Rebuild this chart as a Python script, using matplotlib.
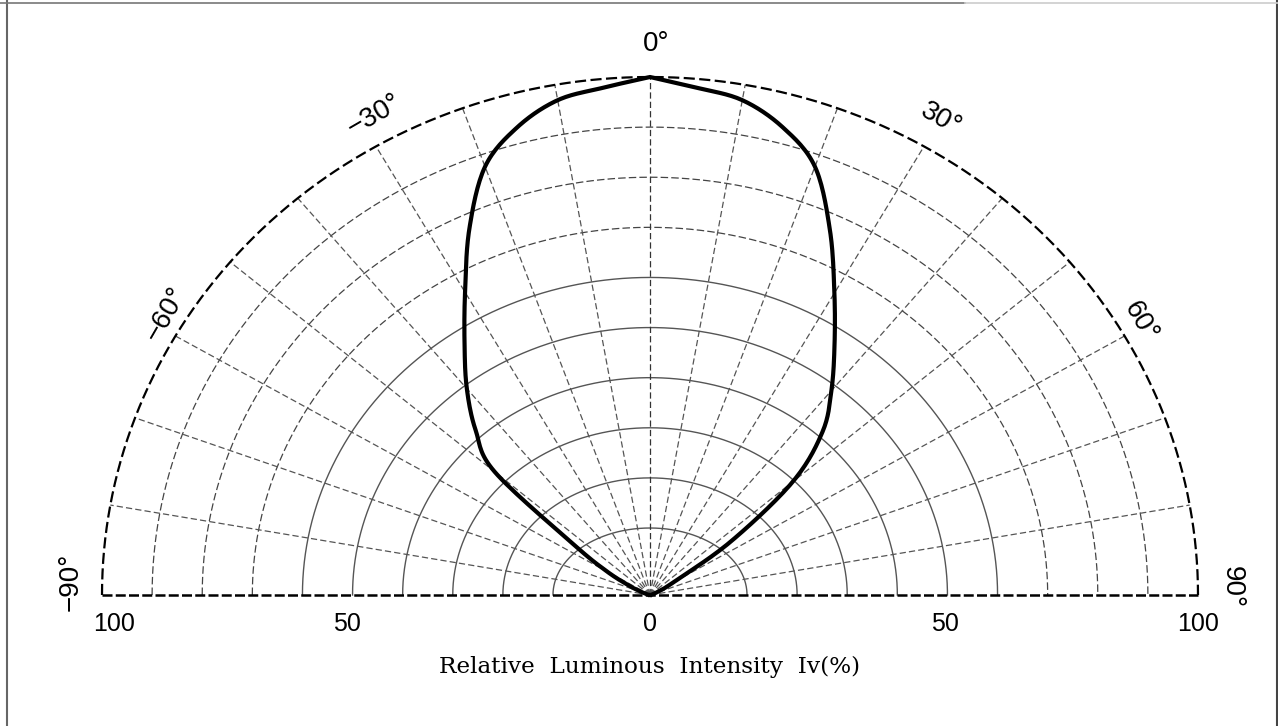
import numpy as np
import matplotlib
matplotlib.use("Agg")
import matplotlib.pyplot as plt
from matplotlib.lines import Line2D

# ---------------- data ----------------
angles_deg = [-90, -85, -80, -75, -70, -65, -60, -55, -50, -45, -40, -35, -30,
              -25, -20, -15, -10, -5, 0, 5, 10, 15, 20, 25, 30, 35, 40, 45,
              50, 55, 60, 65, 70, 75, 80, 85, 90]
intensity = [0, 0.1, 0.3, 0.6, 1.5, 4, 9, 17, 37, 45, 52, 59, 67.5,
             78, 88, 93.5, 97, 98.3, 100, 98.3, 97, 93.5, 88, 77.7, 67.3, 58.7, 51.5, 44.5,
             34, 18, 5, 2, 0.8, 0.4, 0.2, 0.1, 0]
ring_values = [10, 20, 30, 40, 50, 60, 70, 80, 90, 100]
spoke_angles = [-80, -70, -60, -50, -40, -30, -20, -10, 0, 10, 20, 30, 40, 50, 60, 70, 80]
angle_labels = [-90, -60, -30, 0, 30, 60, 90]
tick_values = [-100, -50, 0, 50, 100]
tick_texts = ["100", "50", "0", "50", "100"]
xlabel_text = "Relative  Luminous  Intensity  Iv(%)"

# radial grid offsets (grid drawn with a radial origin offset, separately in x and y)
OFF_X, OFF_Y = 9.36, 3.37
PX_X, PX_Y = 5.48, 5.18  # pixels per data unit


def ring_ax(v):
    return (OFF_X + v) / (OFF_X + 100) * 100


def ring_by(v):
    return (OFF_Y + v) / (OFF_Y + 100) * 100


def catmull_rom(px, py, n=16):
    pts = np.column_stack([px, py])
    pts = np.vstack([2 * pts[0] - pts[1], pts, 2 * pts[-1] - pts[-2]])
    out = []
    for i in range(1, len(pts) - 2):
        p0, p1, p2, p3 = pts[i - 1], pts[i], pts[i + 1], pts[i + 2]
        for s in np.linspace(0, 1, n, endpoint=False):
            s2, s3 = s * s, s * s * s
            out.append(0.5 * ((2 * p1) + (-p0 + p2) * s +
                              (2 * p0 - 5 * p1 + 4 * p2 - p3) * s2 +
                              (-p0 + 3 * p1 - 3 * p2 + p3) * s3))
    out.append(pts[-2])
    out = np.array(out)
    return out[:, 0], out[:, 1]


W, H = 1278, 726
fig = plt.figure(figsize=(W / 100, H / 100), dpi=100)
fig.patch.set_facecolor("white")
ax = fig.add_axes([102 / W, (H - 595) / H, 1096 / W, 518 / H])
ax.set_xlim(-100, 100)
ax.set_ylim(0, 100)
ax.axis("off")

t = np.radians(np.linspace(-90, 90, 721))

# rings
for v in ring_values:
    a, b = ring_ax(v), ring_by(v)
    if v == 100:
        ax.plot(a * np.sin(t), b * np.cos(t), color="black", lw=1.6,
                dashes=(5, 2), clip_on=False, zorder=3)
    elif v <= 60:
        ax.plot(a * np.sin(t), b * np.cos(t), color="#555555", lw=1.0,
                clip_on=False, zorder=2)
    else:
        ax.plot(a * np.sin(t), b * np.cos(t), color="#444444", lw=0.9,
                dashes=(6, 2.5), clip_on=False, zorder=2)

# spokes
for s in spoke_angles:
    th = np.radians(s)
    ax.plot([0, 100 * np.sin(th)], [0, 100 * np.cos(th)],
            color="#333333" if s == 0 else "#555555", lw=0.9,
            dashes=(5, 2.5), clip_on=False, zorder=2)

# baseline
ax.plot([-100, 100], [0, 0], color="black", lw=1.8, dashes=(4, 1.3),
        clip_on=False, zorder=3)

# curve (smooth drawing through the read points, each half separately so the
# peak at 0 deg stays pointed)
th = np.radians(angles_deg)
r = np.array(intensity)
cx, cy = r * np.sin(th), r * np.cos(th)
mid = angles_deg.index(0)
lx, ly = catmull_rom(cx[:mid + 1] * PX_X, cy[:mid + 1] * PX_Y)
rx, ry = catmull_rom(cx[mid:] * PX_X, cy[mid:] * PX_Y)
ax.plot(np.concatenate([lx, rx[1:]]) / PX_X, np.concatenate([ly, ry[1:]]) / PX_Y,
        color="black", lw=3.0, solid_joinstyle="round", clip_on=False, zorder=5)

# angle labels (placement angle / radius per label)
label_pos = {-90: (-88.6, 105.7), -60: (-58.5, 103.6), -30: (-28.5, 105.4),
             0: (0.6, 106.4), 30: (30, 106), 60: (59.5, 103.8), 90: (89.2, 106.2)}
for a_lab in angle_labels:
    pa, R = label_pos[a_lab]
    thr = np.radians(pa)
    txt = ("\u2212" if a_lab < 0 else "") + f"{abs(a_lab)}°"
    ax.text(R * np.sin(thr), R * np.cos(thr), txt, rotation=-a_lab,
            ha="center", va="center", fontsize=20, family="Liberation Sans",
            rotation_mode="anchor", clip_on=False)

# radial tick labels
label_shift_px = [12, -6, 0, -2, 0]
for tv, tt, sh in zip(tick_values, tick_texts, label_shift_px):
    x = np.sign(tv) * ring_ax(abs(tv)) if tv != 0 else 0
    ax.text(x + sh / PX_X, -5.6, tt, ha="center", va="center", fontsize=18,
            family="Liberation Sans", clip_on=False)

ax.text(0, -13.8, xlabel_text, ha="center", va="center", fontsize=16.7,
        family="DejaVu Serif", clip_on=False)

# frame lines of the picture
fig.add_artist(Line2D([7 / W, 7 / W], [0, 1], color="#666666", lw=1.5))
fig.add_artist(Line2D([1276.5 / W, 1276.5 / W], [0, 1], color="#444444", lw=1.5))
fig.add_artist(Line2D([0, 965 / W], [1 - 3 / H, 1 - 3 / H], color="#777777", lw=1.2))
fig.add_artist(Line2D([965 / W, 1], [1 - 3 / H, 1 - 3 / H], color="#cccccc", lw=1.2))

fig.savefig("out.png", dpi=100, facecolor="white")
